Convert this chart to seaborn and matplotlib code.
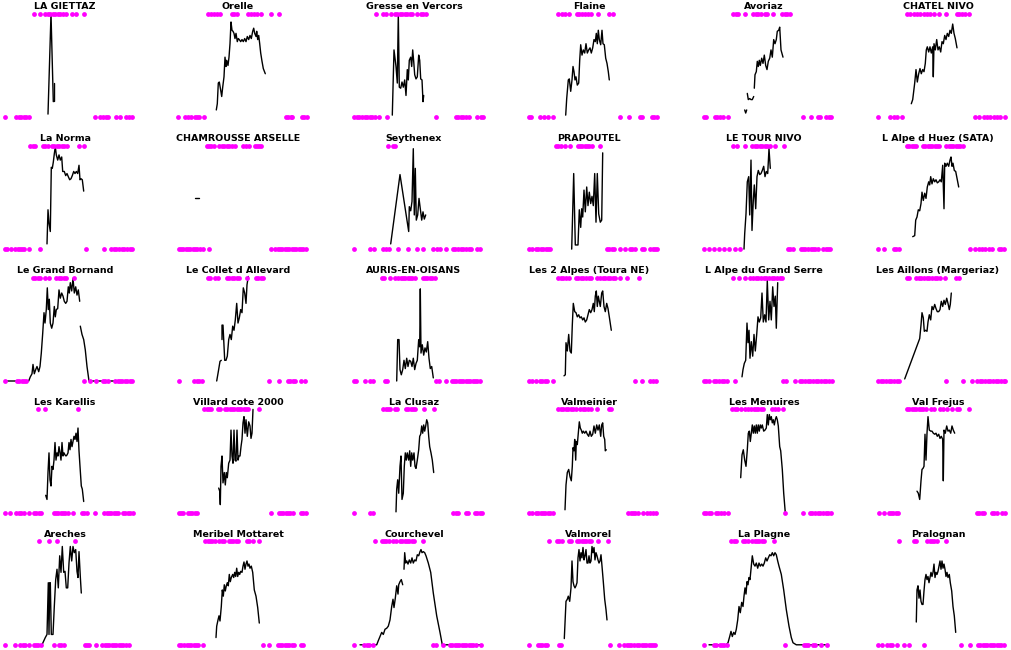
import pandas as pd
import matplotlib
matplotlib.use("Agg")
import matplotlib.pyplot as plt
import seaborn as sns

# station names, in grid order (6 per row)
stations = [
    "LA GIETTAZ", "Orelle", "Gresse en Vercors", "Flaine", "Avoriaz", "CHATEL NIVO",
    "La Norma", "CHAMROUSSE ARSELLE", "Seythenex", "PRAPOUTEL", "LE TOUR NIVO", "L Alpe d Huez (SATA)",
    "Le Grand Bornand", "Le Collet d Allevard", "AURIS-EN-OISANS", "Les 2 Alpes (Toura NE)",
    "L Alpe du Grand Serre", "Les Aillons (Margeriaz)",
    "Les Karellis", "Villard cote 2000", "La Clusaz", "Valmeinier", "Les Menuires", "Val Frejus",
    "Areches", "Meribel Mottaret", "Courchevel", "Valmorel", "La Plagne", "Pralognan",
]

# snow depth series (day of season, % of max); None marks a gap in the record
snow_depth = {
    "LA GIETTAZ": [(43, 3), (46, 100), (48.3, 15), None, (49.3, 33), (49.3, 16)],
    "Orelle": [(38.3, 7), (39.3, 13), (40.3, 33), (41.3, 34), (42.7, 26), (43.7, 20), (44.7, 29), (46, 39),
               (47, 58), (48, 49), (48.7, 55), (50, 50), (51, 58), (52, 71), (53, 92), (54, 84), (55, 83),
               (56, 81), (57, 76), (58, 81), (59.3, 73), (60.3, 76), (61.3, 75), (62.7, 73), (64, 75),
               (65.3, 73), (66.7, 76), (68, 73), (69.3, 78), (70.7, 75), (72, 79), (73.3, 76), (74.7, 83),
               (75.7, 86), (76.7, 81), (78, 78), (78.7, 83), (79.7, 75), (80.7, 79), (81.7, 71), (82.7, 62),
               (84, 54), (85.3, 47), (87.3, 42)],
    "Gresse en Vercors": [(38.3, 2), (40, 65), (42, 49), (43.3, 33), (44.3, 100), (45.3, 29), (46.7, 28),
                          (48, 34), (49.3, 29), (50.7, 36), (52, 21), (53.3, 46), (54.3, 36), (55.3, 55),
                          (56.7, 58), (57.7, 49), (58.7, 65), (59.7, 54), (60.7, 41), (62, 37), (63.3, 39),
                          (64.7, 60), (65.7, 55), (66.7, 37), (68, 36), (69, 15), (69.7, 21)],
    "Flaine": [(36.7, 2), (37.7, 18), (39.3, 36), (40.3, 37), (41.7, 25), (43, 36), (44, 49), (45, 44),
               (46, 36), (47, 39), (48.3, 31), (49.7, 33), (50.7, 55), (51.7, 70), (53, 60), (54.3, 65),
               (55.7, 62), (57, 71), (58.3, 62), (59.7, 65), (61, 67), (62.3, 62), (63.7, 67), (65, 75),
               (66.3, 73), (67.3, 81), (68.3, 71), (69.3, 84), (70.3, 75), (71.7, 70), (73, 84), (74, 71),
               (75.3, 70), (76.7, 57), (78, 52), (79.3, 44), (80.3, 36)],
    "Avoriaz": [(40.7, 7), (41.7, 4), (42.7, 7), None, (43.3, 23), (44.3, 17), (45.7, 18), (47, 17),
                (48.3, 17), (49.7, 20), None, (50.3, 28), (51, 41), (52.3, 44), (53.3, 54), (54.3, 49),
                (55.3, 55), (56.3, 50), (57.7, 57), (59, 52), (60.3, 60), (61.7, 50), (63, 46), (64.3, 54),
                (65.7, 57), (67, 65), (68.3, 58), (69.7, 75), (71, 71), (72.3, 75), (73.3, 83), (74.7, 84),
                (75.7, 87), (77, 65), (79, 58)],
    "CHATEL NIVO": [(33.3, 13), (34.7, 17), (36.7, 33), (38, 46), (39.3, 34), (40.7, 42), (42, 47),
                    (43.3, 42), (44.7, 46), (46, 44), (47.3, 52), (48.3, 65), (49.3, 68), (50.7, 63),
                    (52, 68), (53.3, 62), (54.7, 68), (55.3, 39), (56, 71), (57.3, 65), (58.7, 75),
                    (60, 65), (61.3, 68), (62.7, 63), (64, 73), (65.3, 71), (66.7, 79), (68, 75), (69.3, 81),
                    (70.7, 78), (72, 84), (73.3, 81), (74.7, 90), (76, 81), (77.3, 76), (79, 67)],
    "La Norma": [(42, 5), (43, 38), (44, 25), (45.3, 17), (46.3, 79), (47.3, 78), (48.3, 84), (49.3, 92),
                 (50.3, 99), (51.3, 91), (52.7, 86), (54, 91), (55.3, 86), (56.7, 89), (57.7, 75),
                 (59.3, 75), (60.7, 71), (62, 73), (63.3, 70), (64.7, 67), (66, 68), (67.3, 71), (68.7, 75),
                 (70, 73), (71.3, 75), (72.7, 73), (74, 81), (75, 67), (76, 68), (77.3, 67), (78.7, 56)],
    "CHAMROUSSE ARSELLE": [(17.3, 49), (20.7, 49)],
    "Seythenex": [(36.7, 5), (46, 72), (54.7, 17), (55.3, 41), (56.7, 37), (58, 46), (59.3, 97), (60.3, 33),
                  (61.3, 78), (62.3, 28), (63.7, 33), (65, 49), (66.3, 39), (67.7, 28), (69, 36), (70.3, 29),
                  (71.7, 33)],
    "PRAPOUTEL": [(42.7, 0), (44.7, 73), (46.3, 4), (49, 4), (50.3, 38), (51.7, 21), (52.7, 39), (53.7, 31),
                  (55, 57), (56.3, 36), (57.7, 60), (59, 42), (60.3, 55), (61.7, 44), (63, 51), (64.3, 42),
                  (65.7, 73), (67, 26), (68.3, 73), (69.7, 34), (71.3, 26), (72.7, 28), (73.7, 93)],
    "LE TOUR NIVO": [(40, 0), (40.7, 15), (42, 34), (43.3, 65), (44.7, 70), (45.7, 33), (47, 86), (48, 18),
                     (49.3, 47), (50.3, 62), (51.7, 39), (53, 70), (54.3, 76), (55.7, 72), (57, 73),
                     (58.3, 76), (59.7, 80), (61, 70), (62.3, 75), (63.7, 73), (65, 97), (66.3, 78)],
    "L Alpe d Huez (SATA)": [(34.7, 12), (36.7, 13), (37.7, 28), (39, 31), (40.3, 38), (41.7, 37), (43, 44),
                             (44, 55), (45.3, 47), (46.7, 54), (48, 49), (49.3, 60), (50.7, 65), (51.7, 62),
                             (52.7, 70), (54, 63), (55.3, 68), (56.7, 65), (58, 67), (59.3, 64), (60.7, 65),
                             (62, 67), (63.3, 65), (64.7, 81), (66, 39), (66.7, 83), (68, 80), (69.3, 83),
                             (70.7, 80), (72, 86), (73, 89), (74, 80), (75, 83), (76.3, 76), (77.7, 75),
                             (79.3, 67), (80.7, 60)],
    "Le Grand Bornand": [(2, 0), (23.7, 0), (25.3, 4), (27, 7), (28, 16), (29.3, 7), (30.7, 11), (32, 14),
                         (33.7, 9), (35, 14), (36.3, 27), (37.7, 46), (39, 66), (40, 56), (41.3, 69), (42.3, 90),
                         (43.3, 69), (44.3, 79), (45.3, 56), (46.7, 51), (48, 56), (49.3, 72), (50.3, 62),
                         (51.3, 69), (52.7, 70), (54, 88), (55.3, 80), (56.7, 85), (58, 82), (59.3, 77),
                         (60.7, 75), (62, 77), (63.3, 91), (64.3, 85), (65.3, 95), (66.7, 87), (68, 99),
                         (69.3, 85), (70.7, 91), (72, 83), (73.3, 88), (74.7, 77), None, (75.3, 53), (77, 45),
                         (78.7, 40), (80.3, 30), (82, 14), (84, 0), (125.3, 0)],
    "Le Collet d Allevard": [(38.7, 0), (40.3, 9), (42, 19), (43.3, 20), None, (44, 40), (44, 54), (45, 54),
                             (45.7, 40), (46.7, 20), (48, 20), (49.3, 24), (50.7, 40), (52, 45), (53.3, 40),
                             (54.7, 53), (56, 49), (57.3, 59), (58.7, 75), (60, 56), (61.3, 61), (62.7, 69),
                             (64, 66), (65.3, 90), (66.7, 85), (68, 75), (69, 93), (70.3, 101)],
    "AURIS-EN-OISANS": [(42.7, 0), (43.7, 40), (45, 40), (46, 11), (47.3, 6), (48.7, 11), (50, 20), (51.3, 12),
                        (52.7, 22), (54, 14), (55.3, 20), (56.7, 19), (58, 14), (59.3, 22), (60.7, 11), (62, 17),
                        (63.3, 20), (64.7, 40), (65.7, 33), (66.3, 89), (67, 27), (68.3, 35), (69.7, 25),
                        (71, 32), (72.3, 28), (73.7, 38), (75, 22), (76.3, 12), (77.7, 14), (79.3, 3)],
    "Les 2 Alpes (Toura NE)": [(35, 5), (36.3, 6), (37, 37), (38.3, 29), (39.7, 45), (41, 29), (42.3, 27),
                               (43.3, 54), (44.3, 75), (45.7, 67), (47, 66), (48.3, 62), (49.7, 64), (51, 61),
                               (52.3, 62), (53.7, 59), (55, 61), (56.3, 57), (57.7, 59), (59, 64), (60.3, 69),
                               (61.7, 66), (63, 69), (64.3, 75), (65.3, 67), (66.3, 82), (67.3, 87), (68.3, 72),
                               (69.3, 82), (70.3, 77), (71.3, 72), (72.7, 85), (73.7, 87), (75, 72), (76.3, 67),
                               (77.7, 75), (79, 70), (80.3, 62), (82.3, 49)],
    "L Alpe du Grand Serre": [(38, 4), (39, 11), (40.3, 17), (41.7, 20), (43, 56), (44, 37), (45, 49), (46, 22),
                              (47.3, 38), (48.7, 24), (50, 45), (51.3, 29), (52.7, 45), (54, 62), (55.3, 57),
                              (56.7, 61), (58, 85), (59.3, 57), (60.7, 64), (62, 57), (63.3, 97), (64.7, 59),
                              (66, 77), (67.3, 59), (68.7, 91), (70, 72), (71.3, 82), (72.3, 51), (73.7, 95)],
    "Les Aillons (Margeriaz)": [(26.7, 2), (41.7, 41), (43, 54), (44, 66), (45.3, 61), (46.3, 48), (47.7, 49),
                                (49, 48), (50, 57), (51.3, 64), (52.7, 59), (54, 72), (55.3, 69), (56.7, 74),
                                (58, 70), (59.3, 67), (60.7, 67), (62, 69), (63.3, 77), (64.7, 72), (66, 78),
                                (67.3, 74), (68.7, 80), (70, 75), (71.3, 69), (72.3, 74), (73.3, 85)],
    "Les Karellis": [(40.7, 17), (42, 13), (43, 39), (44, 58), (45, 32), (46, 26), (47, 45), (48, 42), (49, 51),
                     (50, 68), (51, 51), (52, 58), (53, 55), (54, 64), (55, 58), (56, 51), (57, 68), (58, 55),
                     (59, 58), (60, 56), (61, 55), (62, 56), (63, 58), (64, 68), (65, 61), (66, 71), (67, 64),
                     (68, 69), (69, 74), (70, 71), (71, 77), (72, 69), (73, 82), (74, 60), (75, 45),
                     (76.3, 26), (77.3, 23), (78.7, 11)],
    "Villard cote 2000": [(40.7, 24), (41.7, 21), (42.3, 8), (43, 45), (44, 55), (45, 29), (46.3, 39),
                          (47.3, 27), (48.3, 39), (49.3, 34), (50.7, 48), (52, 51), (53, 80), (54, 55), (55, 48),
                          (56, 80), (57, 51), (58, 50), (59, 80), (60, 51), (61, 55), (62, 55), (63, 64),
                          (64, 71), (65, 87), (66, 93), (67, 77), (68, 90), (69.3, 74), (70.7, 88), (72, 84),
                          (73, 72), (74, 77), (75, 100)],
    "La Clusaz": [(42, 1), (42.7, 23), (43.7, 32), (44.7, 19), (46, 45), (47, 55), (48, 13), (49.3, 19),
                  (50.3, 45), (51.3, 58), (52.3, 51), (53.3, 58), (54.7, 51), (55.7, 60), (56.7, 45),
                  (57.7, 58), (58.7, 51), (60, 58), (61, 45), (62, 43), (63.3, 51), (64.7, 61), (65.7, 74),
                  (66.7, 76), (67.7, 84), (68.7, 77), (69.7, 85), (70.7, 79), (71.7, 84), (72.7, 90),
                  (73.7, 87), (74.7, 74), (75.7, 64), (77, 58), (78.3, 51), (79.7, 39)],
    "Valmeinier": [(36, 3), (37, 27), (38.3, 39), (39.7, 42), (41, 35), (42.3, 31), (43.3, 45), (44, 63),
                   (45, 60), (45.7, 71), (46.7, 51), (47.3, 69), (48.3, 66), (49.3, 77), (50.3, 88), (51.3, 82),
                   (52.3, 80), (53.3, 77), (54.3, 79), (55.7, 77), (57, 79), (58.3, 76), (59.7, 74), (61, 79),
                   (62.3, 74), (63.7, 76), (65, 84), (66.3, 77), (67.7, 85), (69, 80), (70.3, 85), (71.7, 74),
                   (72.7, 85), (73.7, 87), (74.7, 74), (75.7, 71), (76.3, 60), (77.3, 61)],
    "Les Menuires": [(36.7, 34), (38, 56), (39.3, 61), (40.7, 51), (42, 45), (43.3, 61), (44.3, 77), (45.3, 79),
                     (46.3, 69), (47.3, 77), (48.3, 85), (49.3, 77), (50.3, 84), (51.3, 77), (52.3, 85),
                     (53.3, 77), (54.3, 85), (55.3, 79), (56.3, 85), (57.3, 82), (58.3, 85), (59.7, 79),
                     (61, 80), (62.3, 82), (63.3, 95), (64.3, 85), (65.3, 95), (66.3, 90), (67.3, 93),
                     (68.3, 87), (69.3, 90), (70.3, 85), (71.3, 90), (72.3, 93), (73.3, 90), (74.3, 84),
                     (75.7, 64), (76.7, 60), (78.3, 42), (79.7, 19), (81.3, 0)],
    "Val Frejus": [(39, 21), (40.3, 19), (41.7, 13), (43, 31), (44, 42), (45, 43), (46, 45), (47, 76), (48, 51),
                   (49, 77), (50, 93), (51.3, 80), (52.7, 79), (54, 79), (55.3, 77), (56.7, 76), (58, 77),
                   (59.3, 74), (60.7, 76), (62, 72), (63.3, 74), (64.7, 71), (65.3, 31), (66, 80), (67.3, 77),
                   (68.7, 84), (70, 79), (71.3, 80), (72.7, 77), (74, 84), (75.3, 80), (76.7, 77)],
    "Areches": [(32, 0), (37, 0), (40.3, 7), (42, 10), (43.3, 60), (44, 10), (44.7, 60), (45.3, 60), (46.3, 10),
                (48, 10), (49.3, 37), (50.7, 63), (52, 73), (53.3, 55), (54.7, 86), (56, 70), (57.3, 95),
                (58.7, 70), (60, 71), (61.3, 55), (62.7, 55), (64, 79), (65.3, 95), (66.7, 81), (68, 95),
                (69.3, 89), (70.7, 92), (72, 71), (73, 65), (74, 90), (75.3, 66), (76.3, 50)],
    "Meribel Mottaret": [(38, 7), (38.7, 18), (40, 24), (41, 28), (42, 23), (43.3, 37), (44.3, 53), (45.3, 47),
                         (46.3, 58), (47.3, 52), (48.3, 57), (49.3, 60), (50.3, 57), (51.3, 68), (52.3, 61),
                         (53.3, 65), (54.7, 68), (55.7, 65), (56.7, 70), (57.7, 66), (58.7, 74), (59.7, 66),
                         (60.7, 70), (61.7, 68), (62.7, 71), (64, 70), (65, 76), (66, 80), (67, 73), (68, 78),
                         (69, 81), (70, 76), (71, 78), (72, 74), (73.3, 76), (74.7, 70), (76.3, 53), (78, 47),
                         (79.7, 36), (81.3, 21)],
    "Courchevel": [(6, 0), (22.7, 0), (24.3, 4), (26, 8), (27.7, 12), (29.3, 10), (31, 15), (32.7, 16), (34.3, 18),
                   (36, 24), (37.7, 37), (39, 44), (40, 36), (41.3, 45), (42.7, 57), (44, 49), (44.7, 58),
                   (46, 61), (47.3, 63), (48.7, 58), None, (50, 73), (50.7, 89), (51.7, 79), (52.7, 81),
                   (54, 78), (55.3, 82), (56.7, 79), (58, 84), (59.3, 79), (60.7, 82), (62, 81), (63.3, 87),
                   (64.7, 86), (66, 90), (67, 92), (68, 89), (69.3, 90), (70.7, 89), (72, 86), (74.3, 79),
                   (76.7, 70), (79.3, 50), (82.7, 28), (86, 12), (88.3, 0), (126, 0)],
    "Valmorel": [(35.3, 6), (37, 42), (38.3, 44), (39.3, 47), (40.7, 42), (42, 55), (43, 81), (44, 61), (45, 57),
                 (46, 55), (47, 57), (48, 60), (49, 84), (50, 92), (51, 81), (52, 89), (53, 84), (54, 94),
                 (55, 82), (56, 86), (57, 92), (58, 79), (59, 79), (60, 86), (61, 79), (62, 81), (63, 95),
                 (64, 89), (65, 94), (66, 82), (67, 89), (68, 86), (69, 82), (70, 79), (71, 81), (72, 87),
                 (73, 76), (74.3, 61), (75.7, 44), (77, 34), (78, 24)],
    "La Plagne": [(5, 0), (22.3, 0), (24, 2), (25.7, 8), (27, 13), (28.3, 8), (29.7, 12), (31, 10), (32.3, 15),
                  (33.7, 24), (35, 37), (36.3, 31), (37.7, 41), (39, 37), (40, 47), (41, 55), (42, 49), (43, 61),
                  (44, 58), (45, 65), (46, 63), (47, 73), (48.3, 86), (49.7, 78), (51, 76), (52.3, 79),
                  (53.7, 74), (55, 79), (56.3, 76), (57.7, 78), (59, 76), (60.3, 79), (61.7, 84), (63, 81),
                  (64.3, 84), (65.7, 87), (67, 86), (68.3, 89), (69.7, 86), (71, 89), (72.3, 87), (73.7, 81),
                  (75, 76), (77.3, 68), (79.7, 53), (82.3, 34), (85, 18), (87.3, 7), (89, 2), (92.3, 0),
                  (121.7, 0)],
    "Pralognan": [(38.3, 22), (39, 53), (40, 57), (41, 45), (42, 53), (43, 42), (44, 39), (45, 39), (46, 52),
                  (47, 63), (48, 68), (49, 63), (50, 66), (51, 60), (52, 65), (53, 70), (54, 66), (55, 70),
                  (56, 78), (57, 65), (58, 70), (59, 68), (60, 71), (61, 76), (62, 81), (63, 73), (64, 81),
                  (65, 74), (66, 78), (67, 73), (68, 66), (69, 70), (70, 65), (71.3, 68), (72.3, 60),
                  (73.7, 52), (75, 37), (76.3, 28), (77.7, 12)],
}

# days flagged at the top of each panel
top_days = {
    "LA GIETTAZ": [28.7, 35.3, 40.3, 43, 45.3, 48, 50.3, 52.7, 55.3, 57.7, 60.7, 67, 71.3, 79.3],
    "Orelle": [30.3, 32.7, 36, 39.3, 42, 53.7, 56, 58.7, 70.3, 72.7, 76, 78.7, 82.7, 92.7, 101],
    "Gresse en Vercors": [21.7, 29.3, 31.7, 36.7, 40.7, 43.3, 46, 48.3, 50.7, 53.3, 55.7, 57.7, 62.7, 66.7, 69.3, 72],
    "Flaine": [29.3, 32.7, 36, 40.3, 47.7, 50.3, 52.7, 56, 59.3, 62, 69.3, 80.3, 84.3],
    "Avoriaz": [29, 31.7, 34, 40.7, 49, 51.7, 54, 57.3, 60.7, 63, 69, 78.3, 80.7, 83, 85.7],
    "CHATEL NIVO": [29, 32.3, 35.7, 39, 42.3, 45.7, 49, 52.3, 55.7, 61.3, 68, 79, 81.3, 84, 87.3, 90.7],
    "La Norma": [25.3, 27.7, 30.3, 38, 40.3, 42.7, 47, 49.3, 52, 54.3, 57, 59.3, 62, 74.3, 79.3],
    "CHAMROUSSE ARSELLE": [28.7, 31, 33.3, 35.7, 41.3, 43.7, 46, 48.7, 51.3, 54, 57, 65.3, 68, 71.3, 77.3, 79.3,
                           81.3, 83.3],
    "Seythenex": [33.7, 39.3, 41.3],
    "PRAPOUTEL": [27, 29.3, 31.7, 36, 41, 48.7, 51, 53.3, 55.7, 58, 60.3, 62.7, 71],
    "LE TOUR NIVO": [29, 33, 40.7, 48.3, 50.7, 53, 55.7, 58, 60.7, 63, 65.7, 70.7, 79.7],
    "L Alpe d Huez (SATA)": [29, 31.3, 33.7, 36, 38.3, 45, 47.3, 49.7, 52, 54.3, 56.7, 59, 61.3, 68.3, 70.7, 73,
                             75.3, 77.7, 80, 82.3, 85],
    "Le Grand Bornand": [28, 30.3, 32.7, 35.3, 40.3, 43.7, 51.3, 53.7, 56, 58.7, 61, 68.7],
    "Le Collet d Allevard": [29.7, 32, 37, 39.7, 49, 51.3, 53.7, 56.3, 58.7, 61.3, 68.7, 78, 80.3, 83, 85.3],
    "AURIS-EN-OISANS": [27.7, 30, 36, 41, 44.3, 46.7, 49, 51.3, 53.7, 56, 58.3, 60.7, 68.7, 71, 73.3, 76, 78.3,
                        80.7],
    "Les 2 Alpes (Toura NE)": [29.3, 31.7, 34.3, 36.7, 40.3, 46.7, 49.3, 51.7, 54.3, 57, 59.7, 62, 68.3, 71,
                               73.7, 76, 78.7, 81, 83.7, 86.3, 91, 98.3, 110.3],
    "L Alpe du Grand Serre": [29, 34.7, 40.7, 46.3, 49, 51.7, 54.3, 57, 59.7, 62.3, 65, 67.7, 70.3, 73, 75.7, 78.3],
    "Les Aillons (Margeriaz)": [29, 31.3, 38, 40.7, 43.3, 46, 48.7, 51.3, 54, 56.7, 59.3, 62, 67.3, 78, 80.7],
    "Les Karellis": [33, 39.7, 72.7],
    "Villard cote 2000": [26.3, 28.7, 31, 33.3, 39.7, 42, 47, 49.3, 51.7, 54, 56.3, 58.7, 61, 63.3, 65.7, 68,
                          70.3, 80.7],
    "La Clusaz": [29.3, 31.7, 34, 36.3, 40.7, 43.3, 52, 54.3, 56.7, 59, 61.3, 70, 80],
    "Valmeinier": [29.3, 31.7, 34.3, 36.7, 39.3, 41.7, 44.3, 46.7, 51, 53.7, 56.3, 59, 61.7, 68.3, 80, 82],
    "Les Menuires": [28.3, 30.7, 33, 37.3, 40.7, 44, 47.3, 49.7, 52, 54.3, 56.7, 59, 68.3, 70.7, 74, 79],
    "Val Frejus": [29, 31.3, 33.7, 36, 38.3, 40.7, 43, 45.3, 47.7, 53.3, 55.7, 62.3, 64.7, 69, 74, 79, 81.3, 90.7],
    "Areches": [33.7, 43.7, 52, 69.7],
    "Meribel Mottaret": [27.3, 29.7, 32, 34.3, 36.7, 41.3, 43.7, 46, 50.7, 53, 55.3, 57.7, 60, 68.7, 71.3, 75.3,
                         81.3],
    "Courchevel": [21, 27.7, 30, 32.3, 34.7, 39.3, 41.7, 46, 48.3, 50.7, 53, 55.3, 57.7, 60, 68.7],
    "Valmorel": [20.3, 28, 30.3, 32.7, 39.7, 42, 48, 50.3, 52.7, 55, 57.3, 59.7, 62, 69.3, 79.3],
    "La Plagne": [27.3, 29.7, 32, 39, 41.3, 43.7, 48.3, 50.7, 53, 55.3, 57.7, 60, 70],
    "Pralognan": [21, 36, 38.3, 49.3, 51.7, 54, 56.3, 58.7, 68.3],
}

# days flagged at the bottom of each panel
bottom_days = {
    "LA GIETTAZ": [0, 11, 13.7, 16, 18.7, 21.3, 23.7, 90.3, 95.3, 98, 100.7, 102.7, 111.3, 114.7, 121.3, 124.3, 127],
    "Orelle": [0, 6.7, 10, 13.3, 16.7, 18.7, 21, 26, 107.7, 110, 112.7, 114.3, 123.7, 126, 129.3],
    "Gresse en Vercors": [0, 2.7, 5.3, 7.7, 10.7, 13.3, 16, 18.3, 21, 25, 33.3, 81.7, 101.7, 104, 106.7, 109.3,
                          111.7, 115, 122.7, 126.7, 129],
    "Flaine": [0, 2, 11, 15.3, 18.7, 24.3, 91, 100, 111, 112.7, 122.7, 125, 127.7],
    "Avoriaz": [0, 2.3, 10.7, 13, 15.7, 19, 24, 99, 107.3, 114, 116.3, 122.3, 124.7, 126.7],
    "CHATEL NIVO": [0, 12.3, 15.7, 19, 24, 97.3, 100.7, 105.7, 109, 112.3, 115.7, 119, 122.3, 127.3],
    "La Norma": [0, 2, 6, 10.3, 12.7, 14.7, 17, 19.3, 23.7, 35.3, 81, 99.3, 106, 108.7, 111.3, 114, 116.7, 119.3,
                 122, 124.7, 127.3],
    "CHAMROUSSE ARSELLE": [0.7, 3, 5.3, 7.7, 10, 12.3, 14.7, 17, 19.3, 22, 24.7, 31.3, 92.7, 97.3, 99.7, 102,
                           104.3, 106.7, 109, 111.3, 113.7, 116, 118.3, 120.7, 123, 125.3, 127.7],
    "Seythenex": [0, 16, 20, 29.3, 32, 34.7, 44.3, 54.3, 62.7, 69.3, 79.3, 82.7, 86, 92, 98.7, 101.3, 104, 106.7,
                  109.3, 112, 114.7, 116.7, 123.3, 126],
    "PRAPOUTEL": [0, 2.7, 7, 9.3, 11.7, 14.3, 16.7, 19, 21.3, 77.7, 80, 82.7, 85, 91, 96, 101, 103.3, 105.7,
                  112.7, 115, 121, 123.7, 126, 128.3],
    "LE TOUR NIVO": [0, 5, 9.7, 14.7, 19.7, 24.7, 30.7, 35.7, 84, 86.3, 89, 96.7, 99, 101.3, 104, 106.7, 109,
                     111.3, 114, 119, 121.7, 124, 126.3],
    "L Alpe d Huez (SATA)": [0, 5.7, 15.7, 18, 20.7, 92.3, 97.3, 100.7, 104, 107.3, 110.7, 114, 120.7, 123.3, 126],
    "Le Grand Bornand": [0, 12, 14.3, 16.7, 19, 21.3, 79.3, 84.7, 91.3, 98, 100.3, 102.7, 110.3, 112.7, 115,
                         117.3, 119.7, 122, 124.7, 127.3],
    "Le Collet d Allevard": [0.7, 16.3, 18.7, 21.3, 23.7, 91.3, 101.3, 109.7, 112, 114.7, 117, 123, 127.3],
    "AURIS-EN-OISANS": [0, 2, 11, 16, 18.7, 31, 32.7, 82, 85.3, 92, 97.7, 100, 102.3, 104.7, 107, 109.3, 111.7,
                        114, 116.3, 118.7, 121, 123.3, 125.7],
    "Les 2 Alpes (Toura NE)": [0, 2.7, 7, 11, 13.3, 16, 18.3, 24.3, 106, 112.7, 121, 123.7, 126.7],
    "L Alpe du Grand Serre": [0, 2.3, 5, 9.7, 12.3, 15, 17.7, 20.3, 23, 30.7, 79, 81.7, 90.7, 95.7, 98.3, 101,
                              103.7, 106.3, 109, 111.7, 114.3, 117, 119.7, 122.3, 125, 127.7],
    "Les Aillons (Margeriaz)": [0, 2.7, 5.3, 8, 10.7, 13.3, 16, 18.7, 21.3, 68, 84.7, 94, 99, 101.7, 104.3, 107,
                                109.7, 112.3, 115, 117.7, 120.3, 123, 125.7, 127.3],
    "Les Karellis": [0.3, 5.3, 11.3, 13.7, 16, 18.7, 23.7, 28.7, 31, 33.7, 36, 48.7, 51, 53.3, 55.7, 58, 60.3,
                     62.7, 68, 77, 79.3, 81.7, 90.3, 99.3, 101.7, 104, 106.3, 108.7, 111, 113.3, 118, 120.3,
                     122.7, 125.3, 127.7],
    "Villard cote 2000": [0.7, 3, 5.3, 9.7, 12, 14.3, 16.7, 19, 93, 100.7, 103, 105.3, 107.7, 110, 112.3, 114.7,
                          123, 125.3, 127.7],
    "La Clusaz": [0.3, 16, 18.7, 99.3, 101.7, 104, 111.7, 114, 121, 123.3, 125.7, 128],
    "Valmeinier": [0, 2.7, 7, 9.3, 11.7, 14, 16.3, 18.7, 21, 23.7, 99.3, 101.7, 104, 106.3, 109.3, 114.3, 118.3,
                   121, 123.7, 126.7],
    "Les Menuires": [0, 2.3, 5, 7.3, 11.7, 14, 17.3, 19.7, 24, 81.3, 99, 105.7, 108.3, 111, 113.7, 116.3, 119,
                     121.7, 124.3, 127],
    "Val Frejus": [0.7, 5.7, 10.7, 13, 15.3, 17.7, 20, 99, 101.3, 103.7, 106, 114, 116.3, 119, 124, 126.7],
    "Areches": [0.3, 10.3, 15.3, 17.7, 20, 23.7, 28.7, 31, 33.3, 35.7, 48.7, 53.7, 56, 58.7, 79.7, 82, 84.3,
                91.3, 97.3, 99.7, 102, 104.3, 106.7, 109, 111.3, 113.7, 116, 118.3, 120.7, 123.7],
    "Meribel Mottaret": [0.7, 3, 6.3, 8.7, 11, 13.3, 15.7, 18, 20.3, 24.7, 84.7, 91.3, 99.7, 102, 104.3, 106.7,
                         109, 111.3, 113.7, 116, 123, 125.3],
    "Courchevel": [0, 10, 12.7, 15.3, 18.7, 79.3, 81.7, 89.3, 96, 98.3, 100.7, 103, 105.3, 107.7, 110, 112.3,
                   114.7, 117, 119.3, 121.7, 127],
    "Valmorel": [0.3, 8.7, 11, 13.3, 15.7, 18, 29.7, 32, 81.3, 90.3, 95.3, 97.7, 100, 102.3, 104.7, 108, 110.3,
                 112.7, 115, 117.3, 119.7, 122, 124.3, 126.3],
    "La Plagne": [0, 10, 12.3, 15.7, 18, 20.3, 23, 80.7, 99.7, 102, 104.3, 109, 111.3, 117.3, 123.3],
    "Pralognan": [0, 4.3, 9.3, 11.7, 14, 19.3, 26, 31, 46, 82.7, 91.7, 100, 102.3, 104.7, 107, 109.3, 111.7, 114,
                  116.3, 118.7, 121, 123.3, 125.7],
}

sns.set_style("white")
plt.rcParams['font.family'] = ['DejaVu Sans']

W, H = 1011, 650
fig = plt.figure(figsize=(W / 100, H / 100), dpi=100)

col_left = [5, 178, 354, 529, 704, 878]
row_step = 131.9
y_scale = 1.035  # px per unit of depth

for i, name in enumerate(stations):
    r, c = divmod(i, 6)
    top_px = 13.7 + row_step * r
    bottom_px = top_px + 100 * y_scale
    ax = fig.add_axes([(col_left[c] - 4) / W, 1 - (bottom_px + 4 * y_scale) / H,
                       136 / W, 106 * y_scale / H])

    # split series on gaps
    segments, seg = [], []
    for p in snow_depth[name] + [None]:
        if p is None:
            if seg:
                segments.append(seg)
            seg = []
        else:
            seg.append(p)
    for seg in segments:
        df = pd.DataFrame(seg, columns=['day', 'depth'])
        sns.lineplot(data=df, x='day', y='depth', sort=False, estimator=None,
                     color='black', linewidth=1.0, ax=ax)

    sns.scatterplot(x=top_days[name], y=[100] * len(top_days[name]), color='#ff00ff',
                    s=12, linewidth=0, ax=ax, clip_on=False, zorder=3)
    sns.scatterplot(x=bottom_days[name], y=[0] * len(bottom_days[name]), color='#ff00ff',
                    s=12, linewidth=0, ax=ax, clip_on=False, zorder=3)

    ax.set_xlim(-4, 132)
    ax.set_ylim(-4, 102)
    ax.axis('off')
    ax.set_title(name, x=64 / 136, fontsize=6.8, fontweight='bold', color='black', pad=1.9)

fig.savefig('out.png', dpi=100)
